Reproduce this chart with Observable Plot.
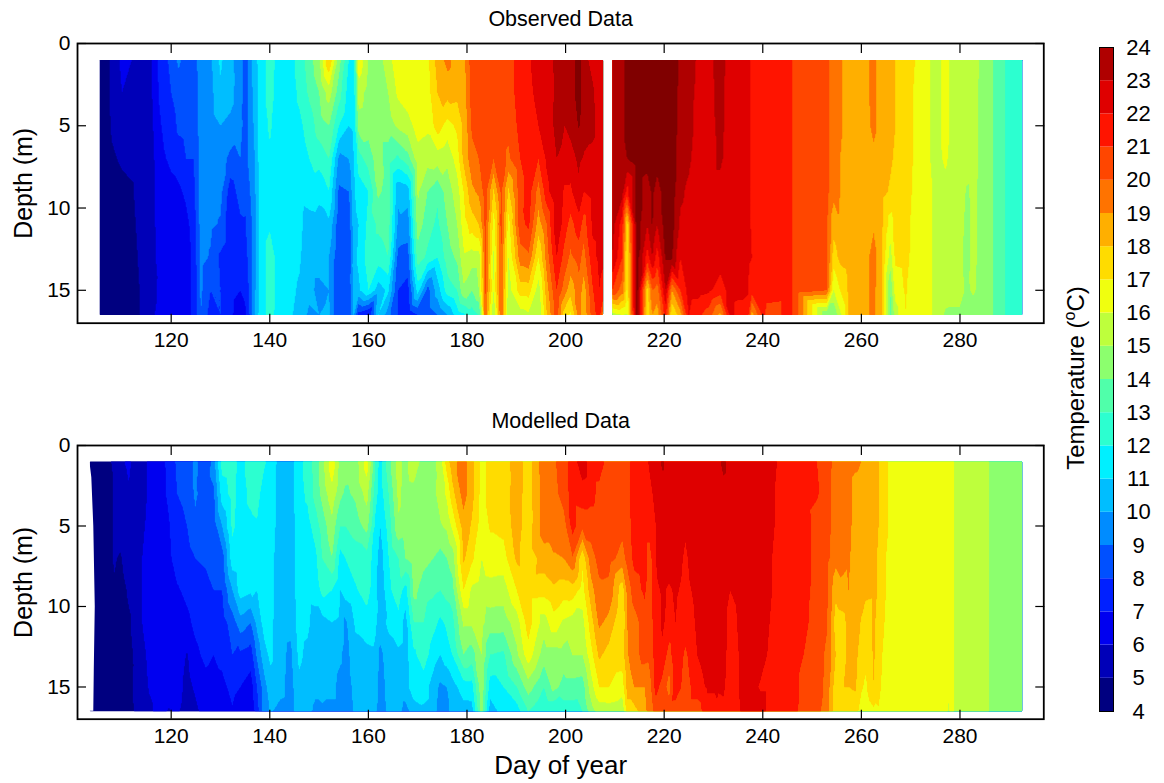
<!DOCTYPE html>
<html><head><meta charset="utf-8">
<script src="https://cdn.jsdelivr.net/npm/d3@7"></script>
<script src="https://cdn.jsdelivr.net/npm/@observablehq/plot@0.6"></script>
<style>
html,body{margin:0;padding:0;background:#fff}
#c{position:relative;width:1164px;height:783px;overflow:hidden;font-family:"Liberation Sans",Arial,sans-serif}
#c>div,#c>svg{position:absolute}
#cbl{font-size:24px;transform:translate(-50%,-50%) rotate(-90deg);white-space:nowrap;line-height:1}
#cbl sup{font-size:16px;line-height:0}
</style></head><body><div id="c"></div>
<script>
const depths=[1,3,5,7,9,11,13,15,16.5];
const levels=[4,5,6,7,8,9,10,11,12,13,14,15,16,17,18,19,20,21,22,23,24];
const bands=[4,5,6,7,8,9,10,11,12,13,14,15,16,17,18,19,20,21,22,23];
const breaks=[5,6,7,8,9,10,11,12,13,14,15,16,17,18,19,20,21,22,23,24];
const jet=["#000080","#0000b8","#0000f0","#0020ff","#0050ff","#008cff","#00beff","#00f0ff","#2cffd0","#50ffaa","#8cff6e","#beff3c","#f0ff0f","#ffdc00","#ffaf00","#ff7300","#ff4600","#ff1400","#df0000","#af0000","#800000"];
const xTicks=[120,140,160,180,200,220,240,260,280];
const yTicks=[0,5,10,15];

const obsDaysA=[105.5,106,108,110,112,114,116,118,120,121.5,123,124.5,126,128,130,132,134,135,136,137,138,140,142,144,146,148,150,152,154,156,157,158,160,162,164,166,168,170,172,174,176,178,179.3,181,182.4,183.7,185.4,186.9,188.4,190.8,192.5,194.5,196.2,198.2,199.8,201,202.7,203.7,205.5,206.8,207.6];
const obsA=[
[4.4,4.4,4.4,4.4,4.4,4.4,4.4,4.4,4.4],
[4.4,4.4,4.4,4.4,4.4,4.4,4.4,4.4,4.4],
[5.2,5.2,5.1,4.9,4.6,4.5,4.4,4.4,4.4],
[6.2,6.0,5.5,5.1,4.8,4.6,4.5,4.5,4.5],
[6.0,5.8,5.4,5.2,4.9,4.8,4.7,4.6,4.6],
[5.5,5.4,5.4,5.3,5.4,5.3,5.2,5.1,5.1],
[5.9,5.9,5.8,5.7,5.7,5.7,5.7,5.8,5.9],
[7.6,7.4,7.0,6.8,6.6,6.5,6.4,6.2,6.2],
[8.2,8.0,7.5,7.2,6.7,6.5,6.5,6.6,6.6],
[9.2,8.5,8.2,7.5,6.8,6.6,6.6,6.6,6.6],
[8.6,8.6,8.3,8.0,7.2,6.7,6.6,6.7,6.7],
[8.4,8.3,8.2,8.0,7.6,7.4,7.2,7.2,7.2],
[9.6,9.6,9.5,9.5,9.4,9.4,9.3,9.2,9.0],
[9.8,9.7,9.6,9.5,9.4,9.2,8.9,8.0,7.6],
[11.2,10.8,10.0,9.5,9.3,8.9,7.8,8.0,8.0],
[10.2,10.3,9.8,8.7,7.5,7.1,7.2,7.3,7.2],
[9.6,9.5,9.4,9.0,8.4,7.8,7.4,7.0,6.5],
[8.4,8.4,8.5,8.6,8.2,7.9,7.6,7.2,6.8],
[9.6,9.6,9.4,9.4,9.0,8.6,8.5,8.3,8.2],
[10.6,10.4,10.3,10,9.9,9.8,9.8,9.9,10],
[11.5,11.5,11.5,11.5,11.5,11.5,11.5,11.5,11.5],
[12.4,12.3,12.1,11.9,11.8,11.9,12.4,12.4,12.3],
[11.6,11.6,11.6,11.6,11.6,11.6,11.6,11.6,11.6],
[11.5,11.5,11.4,11.4,11.4,11.3,11.3,11.2,11.1],
[12.4,12.2,11.8,11.5,11.3,11.2,11.1,10.9,10.8],
[13.5,13.2,12.4,12,11.5,10.6,10.5,10.3,9.8],
[14.8,14,13.5,12.4,11.2,10.7,10.5,9.7,10],
[18.0,15.5,14.0,13,12,10.8,10,10,10.2],
[14.5,13.5,12.0,9.8,8.8,8.4,8.2,8.0,8.0],
[12,11.5,11,10,9.0,8.2,8.0,8.2,8.3],
[11.5,11.4,11.2,11,10.8,10.6,10.6,10.4,10.2],
[16.8,15.5,14.5,12.5,11.5,11.0,11.2,10.8,7.5],
[15,14.6,14.4,13.5,12,12.3,12.5,12,6.8],
[14.6,14.5,14.5,14.5,14.2,13.2,12.5,10.5,11],
[15.5,15,14.5,13.5,13.6,13.5,13.0,11.2,9.5],
[16.8,16.2,15.2,12.8,10.2,9.8,8.7,8.0,8.0],
[16.6,16.6,15.6,13.6,10.5,9.5,8.6,7.6,7.2],
[16.7,16.7,16.4,15.6,15.2,14.6,13.5,11.5,8.0],
[16.8,16.6,16.2,15.4,14.0,13.4,12.8,8.6,8.4],
[18.4,18.0,17.5,15.5,13.2,12.8,12,10.5,9.0],
[19.3,18.4,16.6,15.2,14.5,14,13.5,12.5,10.0],
[18.6,18.3,17.2,16.5,15.5,15,14.2,13,11.5],
[18.6,18.4,18.2,18.2,17.0,16.5,15.8,14.8,11.8],
[20.6,20.5,20.2,19.6,18.8,17.5,15.5,14.0,12.5],
[20.6,20.5,20.4,20,19.2,18,15.5,15,13],
[20.6,20.6,20.5,20.5,20.5,20.4,20.3,20.2,19.8],
[20.7,20.6,20.5,20,17.8,16.5,15.8,16,15],
[21,20.7,20.5,20.5,20.2,20.3,20.2,20.2,20],
[20.6,20.5,20.3,19.8,17.8,16.6,16.0,15.5,15.2],
[21.5,21.5,21.3,21,20.6,20.7,19.5,17.5,15.5],
[21.8,21.5,21.5,21.5,21.5,21.2,19.8,17.5,15.8],
[22.5,22.6,22,21,19.6,18.5,17,15.5,15],
[22.5,22.5,22.4,22.2,21.7,20,19.5,18.6,18],
[23.3,23.2,23.3,23,22.9,22.8,22,21,20.6],
[23.5,23.5,23,22.8,21.8,21.5,20.6,19.5,17.5],
[23.5,23.5,23.3,22.6,21.8,20.6,19.8,18.4,16.8],
[24.5,24.5,24.1,23.2,22.8,21.6,20.4,19.6,19.4],
[23.4,23.5,23.4,22.9,22,20.5,19.6,18.5,18.3],
[22.6,23.2,23.3,22.7,22.4,22.2,21.7,20.9,20.5],
[22.6,22.5,22.5,22.4,22.4,22.3,22.2,22,21.5],
[22.4,22.3,22.3,22.4,22.3,22.2,22.1,21.8,19.5]];

const obsDaysB=[209.5,211.5,212.5,214.5,216.6,217.6,218.6,220.3,221.6,223.3,225,227,229,231.4,233.4,235.5,237,237.8,240,241.6,245.4,246.6,253,254.4,255.7,257.8,260,262.5,264.2,265.9,266.9,268.9,270.9,274,275.3,277,280,281.4,282.8,285.1,286.6,287,289,289.4,292.6];
const obsB=[
[23.5,23.5,23.5,23.5,23.5,23.4,23,21,15.5],
[23.6,23.6,23.5,23.5,23.4,21.5,21,19.5,16],
[24.4,24.5,24.5,24,21.5,17.5,16.8,16.8,15.8],
[24.6,24.6,24.6,24.6,24.6,24.5,24.5,24.5,24.5],
[24.6,24.6,24.6,24.4,23.5,23,21.5,17.5,17],
[24.6,24.6,24.6,24.6,24.2,24.1,23,20,19],
[24.6,24.6,24.6,24.4,23.6,23,21.5,19.5,18.5],
[24.6,24.6,24.6,24.6,24.5,24.5,24.1,23,21.5],
[24.6,24.6,24.6,24.5,24.5,24.5,24.1,19,17],
[23.8,23.7,23.6,23.5,23.2,22.8,22,21,18.6],
[23.5,23.4,23.4,23.2,22.8,22.6,22.5,22.4,22],
[22.8,22.7,22.5,22.4,22.4,22.4,22.4,22.4,21.2],
[22.6,22.6,22.6,22.6,22.6,22.6,22.5,22.2,20.5],
[23.5,23.4,23.3,23.2,22.6,22.6,22.5,21.5,18.7],
[22.5,22.5,22.5,22.4,22.4,22.4,22.4,22.4,22.3],
[22.4,22.4,22.4,22.4,22.4,22.4,22.4,22.3,21.5],
[22.2,22.2,22.2,22.2,22.2,22.2,22.2,22.1,21.5],
[21.9,21.9,21.9,21.9,21.9,21.9,22,21.4,18.5],
[21.7,21.7,21.7,21.7,21.7,21.7,21.7,21.5,21.2],
[21.6,21.6,21.6,21.6,21.6,21.6,21.6,21.5,20.5],
[21.4,21.4,21.4,21.4,21.4,21.4,21.4,21.4,21.4],
[20.6,20.6,20.6,20.6,20.6,20.6,20.6,20.6,20.6],
[20.3,20.3,20.3,20.3,20.3,20.2,20.1,20,14],
[19.5,19.5,19.5,19.5,19.3,18.4,17.5,16,14],
[19.1,19.1,19.1,19,19,18.9,18.3,17,15.8],
[18.6,18.6,18.6,18.6,18.6,18.6,18.6,18.5,18.5],
[18.5,18.5,18.5,18.5,18.5,18.5,18.5,18.5,18.5],
[19.3,19.3,19.2,18.8,18.6,18.9,19.3,19.3,19.3],
[18.4,18.4,18.4,18.4,18.3,18.2,18.1,18,18],
[18.2,18.2,18.2,18.1,17.9,16.5,15.5,14,13.6],
[18,18,18,17.9,17.7,17.5,17.2,16.4,15.5],
[17.5,17.5,17.5,17.4,17.4,17.3,17.3,17.1,17],
[17,16.9,16.9,16.9,16.8,16.7,16.6,16.5,16.5],
[16,16,16,16,16.1,16.1,16.1,16.1,16.1],
[15.8,15.8,15.8,15.8,15.8,15.8,15.8,15.7,15.7],
[16.2,16.2,16.2,16.1,15.8,15.6,15.5,15.3,14.9],
[15.5,15.5,15.5,15.5,15.5,15.3,15.2,15.2,14.9],
[15.5,15.5,15.5,15.5,14.9,14.8,14.8,14.9,14.6],
[15.4,15.3,15.3,15.3,15.2,15.2,15.2,15.1,14.6],
[14.5,14.5,14.5,14.5,14.5,14.5,14.5,14.5,14.5],
[14.1,14.1,14.1,14.1,14.1,14.1,14.1,14.1,14.1],
[13.8,13.8,13.8,13.8,13.8,13.8,13.8,13.8,13.8],
[13.2,13.2,13.2,13.2,13.2,13.2,13.2,13.2,13.2],
[12.8,12.8,12.8,12.8,12.8,12.8,12.8,12.8,12.8],
[12.6,12.6,12.6,12.6,12.6,12.6,12.6,12.6,12.6]];

const modelDays=[103.5,106,107.5,108.4,109.6,111.4,112.8,114.1,115.5,117.8,119.5,121.2,123.2,124.9,127,128.6,130.3,132.4,134,136.1,137.4,138.8,140.1,142.2,144.2,145.9,147.6,149.3,150.6,152.6,154.3,155.3,157.4,159.7,161.4,162.4,164.1,166.1,167.5,169.2,171.2,173.2,174.6,175.9,177,179.3,181,183,184.7,187.4,190.1,192.4,195.6,197.6,199.6,201.4,203.4,205.1,206.8,208.8,211.5,212.5,213.9,216,217,218.3,219.6,221,222.3,224.3,226.7,228.7,230.7,232,233.4,235.8,238.2,239.5,240.9,242.9,246.3,248.3,251,253,254.8,256.4,257.4,258.8,260,260.8,262.5,263.5,265,268,277.3,277.6,277.9,278.6,279,280,286,287,292.6];
const model=[
[4.4,4.4,4.4,4.4,4.4,4.4,4.4,4.4,4.4],
[4.4,4.4,4.4,4.4,4.4,4.4,4.4,4.4,4.4],
[4.9,4.6,4.6,4.5,4.5,4.5,4.4,4.4,4.4],
[5.2,5.2,5.2,5.1,4.9,4.7,4.6,4.5,4.5],
[5.8,5.4,5.4,4.9,4.7,4.6,4.5,4.5,4.5],
[6.2,5.9,5.7,5.4,5.1,4.9,4.7,4.6,4.6],
[5.6,5.6,5.5,5.5,5.3,5.2,5.2,5.3,5.1],
[5.4,5.6,5.8,6,6,6,5.6,5.3,5.2],
[6.2,6.2,6.3,6.4,6.4,6.4,6.3,6.1,5.7],
[6.6,6.6,6.6,6.6,6.6,6.6,6.6,6.6,6.5],
[7.3,7.2,6.9,6.8,6.6,6.6,6.6,6.6,5.9],
[8.2,8,7.6,7.4,6.9,6.7,6.7,6.5,6.2],
[8.4,8.3,8,7.6,7.2,6.8,5.9,5.6,5.5],
[9.3,9.2,8.7,8,7.5,7.2,6.8,6.2,5.7],
[8,8.3,8.4,8.1,7.8,7.5,7.2,6.7,6.6],
[9.6,8.8,8.5,8.2,8,7.6,7,6.6,6.4],
[12.4,11.5,10,8.5,8,7.5,7.3,6.7,6.5],
[12.5,12.4,12.2,11.6,10,8.5,8,7.3,6.9],
[11.6,11.6,11.6,11.8,11.5,9.6,7.8,7,6.4],
[12.4,12.2,11.8,11.6,11.2,9,7.5,6.5,6.2],
[12.6,12.4,11.9,11.6,11,10.3,9.2,8,7.5],
[12.2,11.5,11.4,11.4,11.4,11.4,10.6,9.5,9.5],
[11.6,11.5,11.4,11.3,11.3,11.2,11.2,10.6,10.1],
[10.6,10.6,10.6,10.5,10.5,10.5,10.4,10.3,9.7],
[10.6,10.6,10.5,10.5,10.5,10.4,9.7,9.6,9.6],
[11.6,11.6,11.4,11.4,11.4,11.3,11.2,10.8,10.5],
[12.4,12.2,11.6,11.5,11.3,11.2,10.8,10.5,10.3],
[13.5,13.4,12.5,11.8,11.4,10.6,10.3,10.2,9.8],
[14.6,14.3,13.4,13,12.3,10.6,10.6,10.4,9.8],
[16.7,15.7,14.7,14,12,11,10.6,10.4,9.6],
[14.6,14.3,13,11.6,11,10.8,10.2,9.6,9.6],
[14.6,13.8,13,12,11.5,9.8,9.6,9.5,9.4],
[14.5,14.2,13.5,12.4,11.9,11.2,10.6,10.3,10.2],
[16.6,15.4,14.4,12.6,12.4,11.6,10.7,10.6,10.4],
[13,12.4,11.8,11.5,11.4,11.2,10.8,10.5,10.2],
[11.6,11.5,11,10.5,10.2,10.6,9.7,9.5,9.5],
[13.6,13,12.4,12,11.8,11.2,10.6,10.4,10.3],
[15.5,15.3,14.8,13,12.5,11.7,10.8,10.6,10.5],
[14.6,14.5,14.5,14,11.6,10.6,10.6,10.6,9.6],
[15.8,14.6,14.5,14.5,14.4,13,11.8,11.6,10.5],
[14.5,14.4,14.4,14.4,13.4,13,12.5,11.5,10.8],
[14.6,14.7,14.5,14,13.2,12.3,11.5,10.5,10.5],
[15.6,15.5,14.9,13.6,13,11.8,11,9.8,9.6],
[17.5,16.2,15.2,14,13.4,12.2,11.6,10,9.6],
[18.6,17.6,16.2,14.4,13.6,12.6,12,10.6,10.5],
[19.5,19.5,18.5,18.2,17,15.2,14,11.5,10.6],
[18.4,18.3,17.9,17.2,15.8,15.2,13.5,11.6,10.6],
[16.6,16.6,16.5,16,15.5,15.3,15,14.8,14.6],
[17.5,17.4,17.1,16.6,15.6,14.5,13,11.5,10.5],
[17.4,17.5,17.3,16.6,15.5,14.5,12.8,12,11.4],
[18.6,18.5,18.5,18.2,17,15.5,14.8,13,11.5],
[17.5,17.5,17.4,17.4,17.5,17.5,16.6,14.5,13],
[19.6,19.5,19.6,18.5,17.4,15.5,14.5,13,12],
[19.8,19.6,19.5,18.9,17.8,16.6,14.5,14.4,12],
[20.6,20.5,19.5,19,17.5,15.8,14.6,13.6,12.5],
[21.5,21.4,21.4,19.9,17.6,15.5,15,13.6,12.5],
[22.6,21.6,20.3,17.2,16.6,15.6,15,13.5,13],
[21.5,21.4,20.4,19.6,18.5,17.5,16.6,15.5,14.5],
[21.5,20.7,20.4,20.3,19.8,19.2,18.2,17,15.4],
[20.6,20.6,20.5,20.4,19.7,18.7,17.6,17,15.5],
[20.5,20.5,20.3,19.6,17.4,17,17.5,16.5,15.3],
[20.6,20.6,20.5,20.3,19.3,19,18.9,18.4,17.6],
[21.6,21.5,21.5,21.3,20.5,19.6,19.6,19,17.6],
[21.7,21.6,21.5,21.5,21.2,20.5,20.4,19,18.7],
[22.1,21.8,21.5,20.5,20.5,20.4,20.3,19.6,19.4],
[22.4,22.2,22,22,21.8,21.6,21.5,21.4,20.5],
[23.2,22.5,22.5,22.5,22.1,22.1,21.9,20.6,20.4],
[22.5,22.5,22.4,22.4,21.9,21.8,20.5,19.6,20.5],
[22.5,22.4,22.4,22.3,22.1,22,21.9,21.7,20.4],
[22.5,22.4,22.1,21.9,21.8,21.6,20.8,20.5,20.4],
[22.6,22.5,22.5,22.4,22.2,22.1,22,21.6,20.4],
[22.5,22.5,22.5,22.5,22.5,22.4,22.4,22.1,21.7],
[22.6,22.6,22.6,22.5,22.4,22.4,22.3,22.1,21.9],
[23.3,22.6,22.5,22.5,22.5,22.4,22.4,22.2,21.7],
[22.6,22.5,22.4,22.3,22,21.6,21.5,21.4,21.4],
[22.6,22.5,22.5,22.4,22.4,22.3,22.2,22.2,22.1],
[22.5,22.5,22.5,22.5,22.4,22.3,22.1,22.2,22.3],
[22.5,22.5,22.5,22.5,22.4,22.4,22.4,21.9,22.5],
[22.4,22.3,22.3,22.2,22.2,22.1,22,21.9,21.9],
[22,21.9,21.9,21.8,21.8,21.7,21.7,21.6,21.6],
[21.5,21.5,21.5,21.5,21.5,21.5,21.5,21.4,21.4],
[21.5,21.4,21.5,21.5,21.5,21.3,21,20.6,20.5],
[21,21.1,20.6,20.6,20.5,20.5,20.5,20.5,20.4],
[20.6,20.5,20.4,20.3,20.2,20.1,19.8,19.7,19.4],
[19.5,19.5,19.5,19.3,18.3,17.5,18,17.4,17.3],
[19.5,19.5,19.4,19.2,18.8,17.6,17.5,18,17.6],
[19.4,19.4,19.3,19.1,19,18.6,18.4,18,18],
[19.2,18.6,18.6,18.6,18.6,18.6,18.3,18.1,17.6],
[19,18.6,18.5,18.5,18.4,17.9,17.5,17.2,16.4],
[18.5,18.5,18.5,18.4,18.3,17.4,17.3,16.8,16.2],
[18.4,18.3,18.3,18.2,18.2,18.1,18.1,18,16.8],
[18,18,18,17.9,17.9,17.8,17.6,17.4,16.9],
[17.1,17.1,17.1,17,17,16.8,16.4,16.2,16.2],
[16.5,16.5,16.5,16.5,16.5,16.5,16.5,16.5,16.5],
[16.4,16.4,16.4,16.4,16.4,16.4,16.4,16.4,16.4],
[16.4,16.4,16.4,16.4,16.4,16.4,16.4,16.3,15.8],
[16.4,16.4,16.4,16.4,16.4,16.4,16.4,16.4,16.3],
[16.2,16.2,16.2,16.2,16.2,16.2,16.2,16.2,16.2],
[15.8,15.8,15.8,15.8,15.8,15.8,15.8,15.8,15.8],
[15.6,15.6,15.6,15.6,15.6,15.6,15.6,15.6,15.6],
[15,15,15,15,15,15,15,15,15],
[14.6,14.6,14.6,14.6,14.6,14.6,14.6,14.6,14.6],
[14.4,14.4,14.4,14.4,14.4,14.4,14.4,14.4,14.4]];
const edgeDepth=[1,2,5,10,14,16.5];
const edgeDay=[103.5,103.9,104.3,104.6,104.4,104.3];

const tidy=(days,rows)=>days.flatMap((day,i)=>depths.map((depth,j)=>({day,depth,temp:rows[i][j]})));
const color={type:"threshold",domain:breaks,range:jet};
const contour=(days,rows)=>Plot.contour(tidy(days,rows),{x:"day",y:"depth",fill:"temp",thresholds:levels,interpolate:"barycentric",pixelSize:1,smooth:false,x1:days[0],x2:days[days.length-1],y1:1,y2:16.5,stroke:"none"});
function panel(title,layers,h,extra){
  return Plot.plot({width:1060,height:h+43+(extra?62:40),marginLeft:77,marginRight:16.7,marginTop:43,marginBottom:extra?62:40,
    style:{fontFamily:"Liberation Sans",background:"transparent",overflow:"visible"},
    x:{domain:[101,297]},y:{domain:[0,17],reverse:true},color,
    marks:[...layers,
      Plot.axisX(xTicks,{anchor:"bottom",tickSize:-9,tickPadding:18,fontSize:21,label:null,stroke:"#000",color:"#000",strokeWidth:1.2,tickFormat:d=>d}),
      Plot.axisX(xTicks,{anchor:"top",tickSize:-9,tickFormat:()=>"",label:null,stroke:"#000",strokeWidth:1.2}),
      Plot.axisY(yTicks,{anchor:"left",tickSize:-9,tickPadding:16,fontSize:21,label:null,stroke:"#000",color:"#000",strokeWidth:1.2,tickFormat:d=>d}),
      Plot.axisY(yTicks,{anchor:"right",tickSize:-9,tickFormat:()=>"",label:null,stroke:"#000",strokeWidth:1.2}),
      Plot.frame({stroke:"#000",strokeWidth:1.8}),
      Plot.text([title],{text:d=>d,frameAnchor:"top",lineAnchor:"middle",dy:-24.5,fontSize:21.5,fill:"#000"}),
      Plot.text(["Depth (m)"],{text:d=>d,frameAnchor:"left",textAnchor:"middle",lineAnchor:"middle",rotate:-90,dx:-54,fontSize:25,fill:"#000"}),
      ...(extra?[Plot.text([extra],{text:d=>d,frameAnchor:"bottom",lineAnchor:"middle",dy:46,fontSize:26,fill:"#000"})]:[])
    ]});
}
const c=document.getElementById("c");
const p1=panel("Observed Data",[contour(obsDaysA,obsA),contour(obsDaysB,obsB)],279.7);
p1.style.left="0";p1.style.top="0";c.append(p1);
const p2=panel("Modelled Data",[contour(modelDays,model),
  Plot.areaX(edgeDepth.map((d,i)=>({d,e:edgeDay[i]})),{x1:()=>103,x2:"e",y:"d",fill:"#fff"})],273.7,"Day of year");
p2.style.left="0";p2.style.top="402px";c.append(p2);
const bar=Plot.plot({width:110,height:783,marginLeft:45,marginRight:51,marginTop:47,marginBottom:72,
  style:{fontFamily:"Liberation Sans",background:"transparent",overflow:"visible"},
  y:{domain:[4,24]},color,x:{axis:null},
  marks:[
    Plot.rect(bands,{y1:d=>d,y2:d=>d+1,fill:d=>d+0.5}),
    Plot.frame({stroke:"#000",strokeWidth:1}),
    Plot.axisY({ticks:[],tickSize:0,label:null}),
    Plot.text(levels,{y:d=>d,text:d=>String(d),frameAnchor:"right",dx:25,textAnchor:"middle",fontSize:22,fill:"#000"})
  ]});
bar.style.left="1054px";bar.style.top="0";c.append(bar);
const lab=document.createElement("div");lab.id="cbl";lab.style.left="1076px";lab.style.top="378px";
lab.innerHTML="Temperature (<sup>o</sup>C)";c.append(lab);
</script></body></html>
